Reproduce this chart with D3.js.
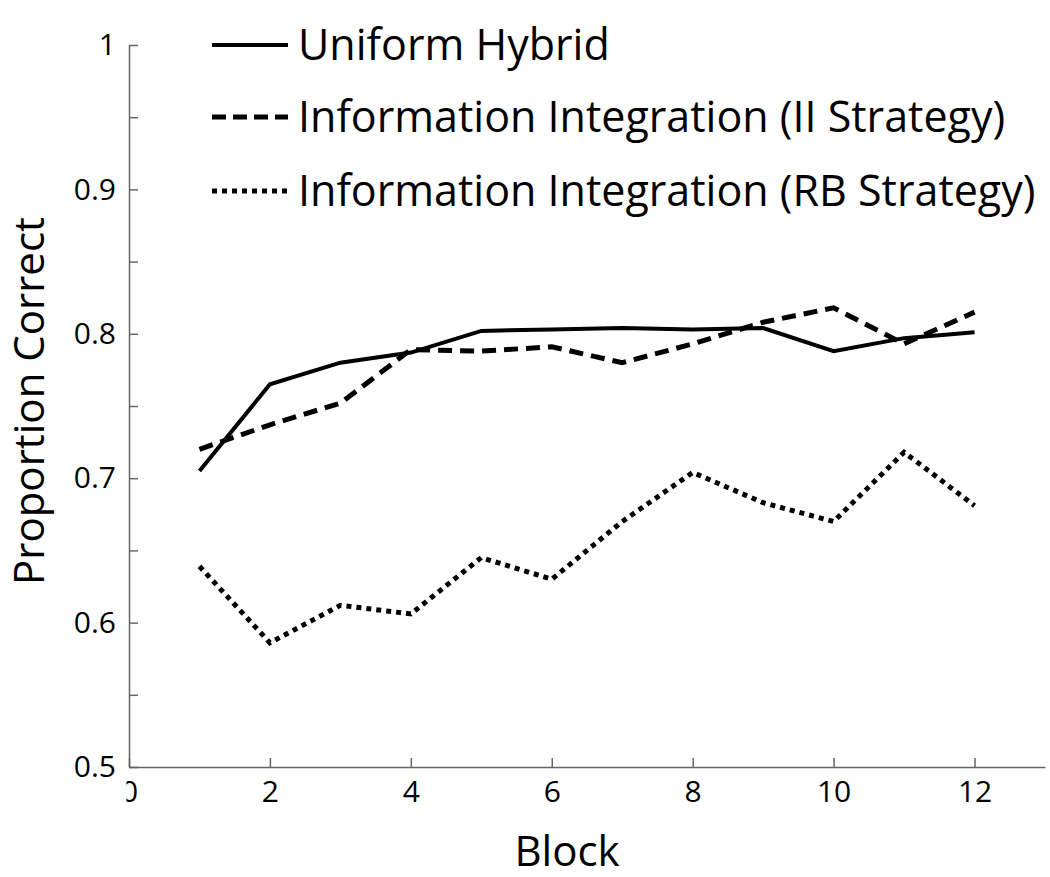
<!DOCTYPE html>
<html>
<head>
<meta charset="utf-8">
<script src="https://cdn.jsdelivr.net/npm/d3@7"></script>
<style>
  body { margin: 0; background: #fff; }
  text { font-family: "Open Sans", sans-serif; fill: #000; }
</style>
</head>
<body>
<div id="chart"></div>
<script>
var blocks = [1, 2, 3, 4, 5, 6, 7, 8, 9, 10, 11, 12];
var uniformHybrid = [0.705, 0.765, 0.780, 0.787, 0.802, 0.803, 0.804, 0.803, 0.804, 0.788, 0.797, 0.801];
var iiStrategy    = [0.720, 0.737, 0.752, 0.789, 0.788, 0.791, 0.780, 0.793, 0.808, 0.818, 0.793, 0.815];
var rbStrategy    = [0.639, 0.586, 0.612, 0.606, 0.645, 0.630, 0.670, 0.704, 0.683, 0.670, 0.718, 0.681];
var seriesNames = ["Uniform Hybrid", "Information Integration (II Strategy)", "Information Integration (RB Strategy)"];
var xTicks = [0, 2, 4, 6, 8, 10, 12];
var yTicks = [0.5, 0.55, 0.6, 0.65, 0.7, 0.75, 0.8, 0.85, 0.9, 0.95, 1];

var width = 1050, height = 877,
    margin = {top: 45, right: 5, bottom: 110, left: 129};

var svg = d3.select("#chart").append("svg")
    .attr("width", width)
    .attr("height", height);

var x = d3.scaleLinear().domain([0, 13]).range([margin.left, width - margin.right]);
var y = d3.scaleLinear().domain([0.5, 1]).range([height - margin.bottom, margin.top]);

var axisColor = "#666";

// x axis, ticks pointing up into the plot
var xAxis = d3.axisBottom(x).tickValues(xTicks).tickSize(-9).tickSizeOuter(0).tickPadding(14);
var gx = svg.append("g")
    .attr("transform", `translate(0,${y(0.5)})`)
    .call(xAxis);
gx.select(".domain").attr("stroke", axisColor).attr("stroke-width", 1.5);
gx.selectAll(".tick line").attr("stroke", axisColor).attr("stroke-width", 1.5);
gx.selectAll(".tick text").style("font-size", "30px");

// the 0 label is cut on its left side in the original
svg.append("clipPath").attr("id", "zeroClip")
  .append("rect").attr("x", -3).attr("y", 0).attr("width", 40).attr("height", 60);
gx.selectAll(".tick").filter(d => d === 0).select("text")
    .attr("clip-path", "url(#zeroClip)");

// y axis, ticks pointing right
var yAxis = d3.axisLeft(y).tickValues(yTicks).tickSize(-9).tickSizeOuter(0).tickPadding(13)
    .tickFormat(d => (Math.round(d * 100) % 10 === 0) ? (d === 1 ? "1" : d3.format(".1f")(d)) : "");
var gy = svg.append("g")
    .attr("transform", `translate(${x(0)},0)`)
    .call(yAxis);
gy.select(".domain").attr("stroke", axisColor).attr("stroke-width", 1.5);
gy.selectAll(".tick line").attr("stroke", axisColor).attr("stroke-width", 1.5);
gy.selectAll(".tick text").style("font-size", "30px");

// axis titles
svg.append("text")
    .attr("x", 567).attr("y", 866)
    .attr("text-anchor", "middle")
    .style("font-size", "42px")
    .text("Block");

svg.append("text")
    .attr("transform", "translate(44,401) rotate(-90)")
    .attr("text-anchor", "middle")
    .style("font-size", "42px")
    .text("Proportion Correct");

// lines
var styles = [
  {data: uniformHybrid, width: 4, dash: null},
  {data: iiStrategy, width: 5, dash: "14,8"},
  {data: rbStrategy, width: 5, dash: "5,5"}
];

var line = d3.line()
    .x((d, i) => x(blocks[i]))
    .y(d => y(d));

styles.forEach(s => {
  svg.append("path")
    .datum(s.data)
    .attr("fill", "none")
    .attr("stroke", "#000")
    .attr("stroke-width", s.width)
    .attr("stroke-dasharray", s.dash)
    .attr("d", line);
});

// legend
var legend = svg.append("g");
var legendY = [45, 117, 191];
var legendDash = [null, "14,7", "5,5"];
seriesNames.forEach((name, i) => {
  legend.append("line")
    .attr("x1", 212).attr("x2", 288)
    .attr("y1", legendY[i]).attr("y2", legendY[i])
    .attr("stroke", "#000")
    .attr("stroke-width", i === 0 ? 4 : 5)
    .attr("stroke-dasharray", legendDash[i]);
  legend.append("text")
    .attr("x", 298).attr("y", legendY[i])
    .attr("dy", "0.35em")
    .style("font-size", "43px")
    .text(name);
});
</script>
</body>
</html>
